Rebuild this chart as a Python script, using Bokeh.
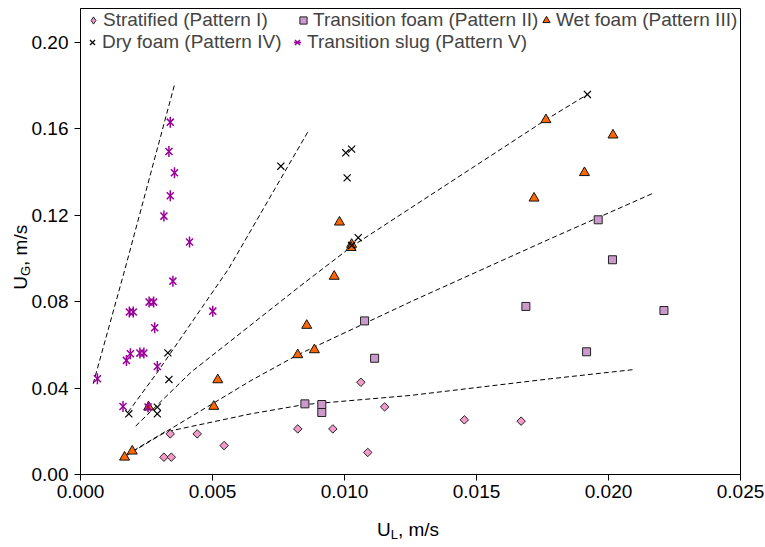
import numpy as np
from bokeh.plotting import figure
from bokeh.models import Range1d, FixedTicker, PrintfTickFormatter, Legend, LegendItem, Div
from bokeh.layouts import row, column
from bokeh.embed import file_html
from bokeh.resources import INLINE

# ---------------- data ----------------
strat_x = [0.00316, 0.00344, 0.00340, 0.00442, 0.00544, 0.00823, 0.00956, 0.01062, 0.01088, 0.01152, 0.01454, 0.01669]
strat_y = [0.0080, 0.0080, 0.0188, 0.0188, 0.0134, 0.0211, 0.0211, 0.0427, 0.0102, 0.0313, 0.0253, 0.0247]

tfoam_x = [0.00850, 0.00914, 0.00914, 0.01076, 0.01114, 0.01687, 0.01917, 0.01961, 0.02015, 0.02210]
tfoam_y = [0.0327, 0.0324, 0.0287, 0.0711, 0.0538, 0.0778, 0.0568, 0.1179, 0.0994, 0.0759]

wet_x = [0.00167, 0.00196, 0.00258, 0.00505, 0.00520, 0.00823, 0.00857, 0.00886, 0.00961, 0.00981,
         0.01027, 0.01025, 0.01718, 0.01763, 0.01909, 0.02017]
wet_y = [0.0080, 0.0108, 0.0312, 0.0315, 0.0438, 0.0554, 0.0690, 0.0577, 0.0917, 0.1168,
         0.1065, 0.1050, 0.1279, 0.1642, 0.1397, 0.1571]

dry_x = [0.00183, 0.00291, 0.00291, 0.00331, 0.00335, 0.00759, 0.01005, 0.01027, 0.01010, 0.01052, 0.01027, 0.01920]
dry_y = [0.0281, 0.0312, 0.0281, 0.0563, 0.0440, 0.1427, 0.1489, 0.1506, 0.1373, 0.1096, 0.1060, 0.1759]

slug_x = [0.00064, 0.00161, 0.00256, 0.00174, 0.00189, 0.00225, 0.00240, 0.00291, 0.00281, 0.00185, 0.00200,
          0.00260, 0.00277, 0.00501, 0.00413, 0.00316, 0.00340, 0.00356, 0.00335, 0.00340, 0.00350]
slug_y = [0.0443, 0.0315, 0.0312, 0.0528, 0.0559, 0.0562, 0.0562, 0.0500, 0.0679, 0.0752, 0.0752,
          0.0798, 0.0798, 0.0756, 0.1076, 0.1196, 0.1290, 0.1397, 0.1495, 0.1631, 0.0895]

# transition boundaries (dashed)
bound1_x = [0.00048, 0.00167, 0.00358]
bound1_y = [0.0420, 0.0944, 0.1813]
bound2_x = [0.00180, 0.00287, 0.00561, 0.00866]
bound2_y = [0.0288, 0.0466, 0.0952, 0.1596]
bound3_x = [0.00209, 0.00419, 0.00835, 0.01027, 0.01763, 0.01920]
bound3_y = [0.0224, 0.0474, 0.0875, 0.1055, 0.1642, 0.1759]
bound4_x = [0.00170, 0.00646, 0.00823, 0.01262, 0.01779, 0.02173]
bound4_y = [0.0085, 0.0435, 0.0554, 0.0806, 0.1091, 0.1304]
bound5_x = [0.00200, 0.00318, 0.00646, 0.00850, 0.01250, 0.01779, 0.02091]
bound5_y = [0.0110, 0.0196, 0.0281, 0.0324, 0.0366, 0.0443, 0.0485]

x_ticks = [0.0, 0.005, 0.010, 0.015, 0.020, 0.025]
y_ticks = [0.0, 0.04, 0.08, 0.12, 0.16, 0.20]

labels = ["Stratified (Pattern I)", "Transition foam (Pattern II)", "Wet foam (Pattern III)",
          "Dry foam (Pattern IV)", "Transition slug (Pattern V)"]

FONT = "Liberation Sans"
FS = "19px"

p = figure(width=737, height=508, output_backend="svg", toolbar_location=None,
           x_range=Range1d(0, 0.025), y_range=Range1d(0, 0.2157),
           min_border_left=51, min_border_right=25, min_border_top=8, min_border_bottom=34,
           margin=0)
p.background_fill_color = "white"
p.border_fill_alpha = 0
p.outline_line_color = "black"
p.outline_line_width = 1
p.xgrid.visible = False
p.ygrid.visible = False

for ax in (p.xaxis, p.yaxis):
    ax.axis_line_color = "black"
    ax.axis_line_width = 1
    ax.major_tick_line_color = "black"
    ax.major_tick_in = 0
    ax.major_tick_out = 6
    ax.minor_tick_line_color = None
    ax.major_label_text_font = FONT
    ax.major_label_text_font_size = FS
    ax.major_label_text_color = "black"
p.xaxis.ticker = FixedTicker(ticks=x_ticks)
p.yaxis.ticker = FixedTicker(ticks=y_ticks)
p.xaxis.formatter = PrintfTickFormatter(format="%.3f")
p.yaxis.formatter = PrintfTickFormatter(format="%.2f")
p.xaxis.major_label_standoff = 4
p.yaxis.major_label_standoff = 6

# boundaries
for bx, by in [(bound1_x, bound1_y), (bound2_x, bound2_y), (bound3_x, bound3_y),
               (bound4_x, bound4_y), (bound5_x, bound5_y)]:
    p.line(bx, by, line_color="black", line_width=1, line_dash="5 3")

STRAT_FILL = "#F39BC8"
# key glyph for the legend (a diamond), drawn underneath the rotated-square markers
r_strat_key = p.scatter(strat_x, strat_y, marker="diamond", size=6,
                        fill_color=STRAT_FILL, line_color="#222222", line_width=1)
r_strat = p.scatter(strat_x, strat_y, marker="square", angle=np.pi / 4, size=6,
                    fill_color=STRAT_FILL, line_color="#222222", line_width=1)
r_tfoam = p.scatter(tfoam_x, tfoam_y, marker="square", size=8,
                    fill_color="#CC99CC", line_color="#222222", line_width=1)
r_wet = p.scatter(wet_x, wet_y, marker="triangle", size=10,
                  fill_color="#FF6600", line_color="#111111", line_width=1)
r_dry = p.scatter(dry_x, dry_y, marker="x", size=10, line_color="black", line_width=1.2)
r_slug1 = p.scatter(slug_x, slug_y, marker="x", size=10, line_color="#990099", line_width=1.5)
r_slug2 = p.scatter(slug_x, slug_y, marker="dash", angle=np.pi / 2, size=11, line_color="#990099", line_width=1.5)

# legend: one single-item legend per entry, laid out like the reference
leg_kw = dict(orientation="horizontal", label_text_font=FONT, label_text_font_size=FS,
              label_standoff=1, glyph_width=18, glyph_height=22, label_height=22,
              spacing=0, padding=0, margin=0, border_line_alpha=0, background_fill_alpha=0)
leg_specs = [
    (labels[0], [r_strat_key], (4, 443)),
    (labels[1], [r_tfoam], (214, 443)),
    (labels[2], [r_wet], (457, 443)),
    (labels[3], [r_dry], (3, 421)),
    (labels[4], [r_slug1, r_slug2], (208, 421)),
]
for lab, rends, loc in leg_specs:
    p.add_layout(Legend(items=[LegendItem(label=lab, renderers=rends)], location=loc, **leg_kw), "center")

# axis titles with subscripts (real HTML text)
txt_style = "flex:none;white-space:nowrap;font-family:'Liberation Sans';font-size:19px;color:#000;"
sub_style = "font-size:13px;vertical-align:-3px;"
ylab_html = ('<div style="width:28px;height:514px;display:flex;align-items:center;justify-content:center;'
             'padding-left:16px;box-sizing:border-box;overflow:visible;">'
             '<div style="' + txt_style + 'transform:rotate(-90deg);">'
             'U<span style="' + sub_style + '">G</span>, m/s</div></div>')
xlab_html = ('<div style="width:737px;height:39px;display:flex;align-items:center;justify-content:center;'
             'padding-left:23px;padding-top:5px;box-sizing:border-box;">'
             '<div style="' + txt_style + '">'
             'U<span style="' + sub_style + '">L</span>, m/s</div></div>')
ylab = Div(text=ylab_html, width=28, height=547, margin=0, styles={"overflow": "visible"})
xlab = Div(text=xlab_html, width=737, height=39, margin=0)

layout = row(ylab, column(p, xlab, spacing=0), spacing=0)

open("out.html", "w").write(file_html(layout, INLINE))
